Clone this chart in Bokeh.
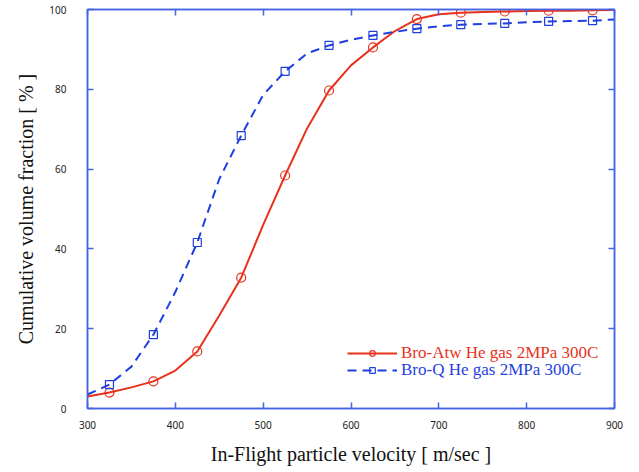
from bokeh.plotting import figure
from bokeh.models import LinearAxis, Legend, LegendItem, Range1d, FixedTicker
from bokeh.embed import file_html
from bokeh.resources import INLINE

# Measured points (markers)
vel_pts = [325, 375, 425, 475, 525, 575, 625, 675, 725, 775, 825, 875]
atw_pts = [4.0, 6.8, 14.3, 32.8, 58.4, 79.7, 90.5, 97.6, 99.2, 99.5, 99.7, 99.8]
q_pts = [6.0, 18.5, 41.6, 68.4, 84.5, 91.0, 93.5, 95.2, 96.2, 96.5, 97.0, 97.2]

# Smooth curves
vel_curve = [300, 325, 350, 375, 400, 425, 450, 475, 500, 525, 550, 575, 600,
             625, 650, 675, 700, 725, 750, 775, 800, 825, 850, 875, 900]
atw_curve = [3.0, 4.0, 5.3, 6.8, 9.5, 14.3, 23.3, 32.8, 46.0, 58.4, 70.2, 79.7, 86.0,
             90.5, 94.6, 97.6, 98.8, 99.2, 99.4, 99.5, 99.6, 99.7, 99.7, 99.8, 99.9]
q_curve = [3.5, 6.0, 10.5, 18.5, 29.2, 41.6, 57.5, 68.4, 78.6, 84.5, 89.0, 91.0, 92.4,
           93.5, 94.4, 95.2, 95.8, 96.2, 96.4, 96.5, 96.8, 97.0, 97.1, 97.2, 97.5]

x_ticks = [300, 400, 500, 600, 700, 800, 900]
y_ticks = [0, 20, 40, 60, 80, 100]

RED = "#e8321c"
BLUE = "#1f3fe0"
FRAME = "#4464e4"

p = figure(width=630, height=472, output_backend="svg", toolbar_location=None,
           x_range=Range1d(300, 900), y_range=Range1d(0, 100),
           min_border_left=87, min_border_right=16, min_border_top=9, min_border_bottom=64,
           x_axis_label="In-Flight particle velocity [ m/sec ]",
           y_axis_label="Cumulative volume fraction [ % ]")
p.grid.visible = False
p.outline_line_color = FRAME
p.outline_line_width = 1.5
p.background_fill_color = "white"
p.border_fill_color = "white"

for ax in [p.xaxis[0], p.yaxis[0]]:
    ax.axis_line_color = FRAME
    ax.axis_line_width = 1.5
    ax.major_tick_line_color = FRAME
    ax.major_tick_line_width = 1.5
    ax.major_tick_in = 6
    ax.major_tick_out = 0
    ax.minor_tick_line_color = None
    ax.major_label_text_font = "Noto Sans"
    ax.major_label_text_font_size = "10px"
    ax.major_label_text_color = "#222222"
    ax.axis_label_text_font = "Liberation Serif"
    ax.axis_label_text_font_size = "20px"
    ax.axis_label_text_font_style = "normal"
    ax.axis_label_text_color = "#111111"

p.xaxis[0].ticker = FixedTicker(ticks=x_ticks)
p.yaxis[0].ticker = FixedTicker(ticks=y_ticks)
p.xaxis[0].major_label_standoff = 12
p.yaxis[0].major_label_standoff = 21
p.xaxis[0].axis_label_standoff = 11
p.yaxis[0].axis_label_standoff = 9

for loc, ticks in [("above", x_ticks), ("right", y_ticks)]:
    ax = LinearAxis(ticker=FixedTicker(ticks=ticks),
                    major_label_overrides={t: "" for t in ticks},
                    axis_line_color=FRAME, axis_line_width=1.5,
                    major_tick_line_color=FRAME, major_tick_line_width=1.5,
                    major_tick_in=6, major_tick_out=0, minor_tick_line_color=None,
                    major_label_standoff=0)
    p.add_layout(ax, loc)

l1 = p.line(vel_curve, atw_curve, line_color=RED, line_width=2)
s1 = p.scatter(vel_pts, atw_pts, marker="circle", size=9, line_color=RED,
               fill_color=None, line_width=1.2)
l2 = p.line(vel_curve, q_curve, line_color=BLUE, line_width=2, line_dash="9 6")
s2 = p.scatter(vel_pts, q_pts, marker="square", size=8, line_color=BLUE,
               fill_color=None, line_width=1.2)

def mk_legend(label, rends, color, loc):
    lg = Legend(items=[LegendItem(label=label, renderers=rends)], location=loc,
                label_text_font="Liberation Serif", label_text_font_size="17px",
                label_text_color=color, glyph_width=50, glyph_height=14,
                label_standoff=4, padding=0, margin=0, spacing=0,
                border_line_color=None, background_fill_alpha=0,
                label_height=14)
    p.add_layout(lg)

mk_legend("Bro-Atw He gas 2MPa 300C", [l1, s1], RED, (260, 45))
mk_legend("Bro-Q He gas 2MPa 300C", [l2, s2], BLUE, (260, 28))

open("out.html", "w").write(file_html(p, INLINE))
